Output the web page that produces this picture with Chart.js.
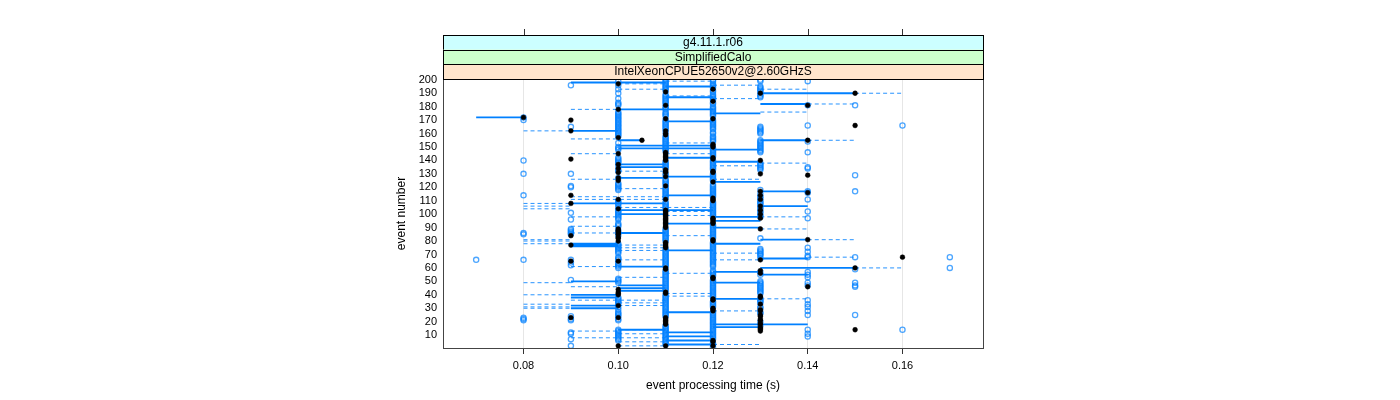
<!DOCTYPE html>
<html>
<head>
<meta charset="utf-8">
<script src="https://cdn.jsdelivr.net/npm/chart.js@4/dist/chart.umd.min.js"></script>
<style>
  html, body { margin: 0; padding: 0; background: #fff; }
  #wrap { width: 1400px; height: 400px; }
</style>
</head>
<body>
<div id="wrap"><canvas id="chart" width="1400" height="400"></canvas></div>
<script>
const stripLabels = ["g4.11.1.r06", "SimplifiedCalo", "IntelXeonCPUE52650v2@2.60GHzS"];
const stripColors = ["#ccffff", "#ccffcc", "#ffe5cc"];

const xTicks = [0.08, 0.10, 0.12, 0.14, 0.16];
const yTicks = [10, 20, 30, 40, 50, 60, 70, 80, 90, 100, 110, 120, 130, 140, 150, 160, 170, 180, 190, 200];

// event numbers with an open circle / a black dot, per time column (s)
const open07 = [66];
const open08 = [172, 170, 140, 130, 114, 86, 85, 66, 23, 22, 21];
const dots08 = [172];
const open09 = [196, 165, 130, 121, 120, 101, 96, 89, 88, 87, 86, 85, 66, 64, 62, 51, 24, 22, 21, 12, 11, 7, 2];
const dots09 = [170, 162, 141, 114, 108, 84, 77, 65, 23];
const open10 = [199, 196, 193, 190, 186, 183, 182, 181, 176, 175, 174, 173, 172, 171, 170, 169, 168, 167, 166, 165, 164, 163, 162, 161, 160, 159, 158, 153, 150, 149, 148, 142, 141, 140, 139, 138, 136, 133, 132, 127, 123, 122, 121, 120, 119, 118, 110, 109, 108, 107, 105, 103, 102, 101, 100, 99, 98, 97, 96, 93, 92, 91, 88, 86, 84, 78, 77, 76, 75, 74, 73, 72, 71, 68, 67, 66, 64, 63, 62, 61, 60, 52, 51, 50, 49, 38, 37, 36, 35, 34, 33, 31, 29, 27, 26, 25, 24, 22, 21, 14, 13, 12, 11, 10, 9, 8, 7, 6];
const dots10 = [197, 178, 157, 145, 137, 134, 131, 127, 125, 111, 104, 89, 88, 87, 86, 85, 83, 82, 80, 65, 44, 42, 41, 40, 32, 23, 2];
const dots105 = [155];
const open11 = [200, 199, 198, 197, 196, 195, 194, 193, 192, 189, 188, 187, 186, 185, 184, 183, 182, 180, 179, 178, 176, 175, 174, 173, 170, 169, 168, 167, 166, 165, 164, 163, 161, 158, 157, 156, 155, 154, 153, 152, 151, 150, 149, 148, 147, 139, 138, 137, 136, 135, 134, 130, 129, 126, 125, 124, 123, 122, 120, 119, 118, 117, 116, 115, 114, 113, 112, 109, 108, 107, 106, 105, 104, 89, 88, 87, 86, 85, 84, 83, 82, 81, 80, 74, 73, 72, 71, 70, 69, 68, 67, 66, 65, 64, 63, 62, 61, 58, 57, 56, 55, 54, 53, 52, 51, 50, 49, 48, 47, 46, 45, 44, 43, 40, 39, 38, 37, 36, 35, 34, 33, 32, 31, 30, 29, 28, 27, 26, 25, 24, 17, 16, 15, 14, 13, 12, 11, 10, 9, 8, 7, 6, 5, 4, 3];
const dots11 = [191, 181, 171, 162, 160, 159, 146, 145, 144, 143, 142, 141, 140, 133, 132, 131, 128, 121, 111, 103, 102, 101, 100, 99, 98, 97, 96, 95, 94, 93, 92, 91, 90, 79, 78, 77, 76, 75, 60, 59, 42, 41, 23, 22, 21, 20, 19, 18, 2];
const open12 = [200, 199, 197, 196, 195, 194, 192, 191, 189, 188, 187, 186, 185, 183, 182, 180, 179, 178, 177, 176, 175, 174, 173, 170, 169, 168, 167, 166, 165, 164, 163, 161, 160, 158, 157, 156, 155, 154, 149, 148, 147, 146, 145, 144, 143, 140, 139, 138, 137, 136, 135, 134, 133, 130, 129, 128, 127, 126, 125, 122, 121, 120, 119, 118, 117, 116, 115, 114, 113, 109, 108, 107, 106, 105, 104, 103, 102, 101, 100, 99, 98, 92, 91, 90, 89, 88, 87, 86, 85, 84, 83, 82, 79, 78, 77, 76, 75, 74, 73, 72, 71, 70, 69, 68, 67, 66, 65, 64, 63, 62, 61, 58, 57, 56, 55, 54, 51, 50, 49, 48, 47, 46, 45, 44, 43, 42, 41, 40, 39, 38, 35, 34, 33, 32, 31, 27, 26, 25, 24, 23, 22, 21, 20, 19, 18, 17, 16, 15, 14, 13, 12, 11, 10, 9, 8, 7, 4, 3, 1];
const dots12 = [193, 184, 171, 152, 151, 150, 142, 141, 132, 131, 124, 112, 111, 110, 97, 96, 95, 94, 93, 81, 80, 53, 52, 37, 36, 30, 29, 28, 6, 5, 2];
const open13 = [200, 199, 195, 194, 193, 192, 191, 189, 188, 187, 165, 164, 163, 162, 161, 160, 155, 154, 153, 152, 151, 150, 149, 148, 147, 146, 138, 137, 136, 135, 134, 133, 118, 115, 113, 112, 110, 109, 108, 107, 105, 104, 102, 101, 99, 98, 82, 74, 73, 72, 71, 70, 69, 67, 57, 55, 50, 49, 48, 47, 46, 45, 44, 43, 42, 41, 37, 36, 35, 34, 31, 30, 27, 26, 20, 17];
const dots13 = [190, 140, 130, 117, 114, 111, 106, 103, 100, 97, 89, 66, 58, 56, 39, 38, 33, 29, 28, 25, 24, 22, 21, 19, 18, 16, 15, 14, 13];
const open14 = [199, 181, 166, 154, 146, 135, 134, 117, 116, 111, 102, 97, 75, 72, 69, 68, 57, 55, 53, 49, 47, 36, 33, 31, 28, 25, 14, 11, 9];
const dots14 = [181, 155, 129, 116, 81, 46];
const open15 = [181, 129, 117, 68, 59, 49, 47, 46, 25];
const dots15 = [190, 166, 60, 14];
const open16 = [166, 14];
const dots16 = [68];
const open17 = [68, 60];

// [event, from time, to time]
const solidSegs = [
  [172, 0.07, 0.08], [198, 0.09, 0.10], [198, 0.10, 0.11], [195, 0.11, 0.12], [190, 0.13, 0.15],
  [187, 0.11, 0.12], [182, 0.13, 0.14], [178, 0.10, 0.12], [175, 0.12, 0.13], [169, 0.11, 0.12],
  [162, 0.09, 0.10], [155, 0.10, 0.105], [155, 0.13, 0.14], [151, 0.10, 0.12], [149, 0.10, 0.12],
  [148, 0.12, 0.13], [142, 0.11, 0.12], [139, 0.12, 0.13], [137, 0.10, 0.11], [135, 0.10, 0.11],
  [128, 0.11, 0.12], [127, 0.10, 0.11], [124, 0.12, 0.13], [117, 0.13, 0.14], [114, 0.11, 0.12],
  [108, 0.09, 0.11], [106, 0.13, 0.14], [103, 0.10, 0.12], [100, 0.10, 0.11], [98, 0.12, 0.13],
  [95, 0.12, 0.13], [93, 0.11, 0.12], [90, 0.12, 0.13], [86, 0.10, 0.11], [81, 0.13, 0.14],
  [78, 0.09, 0.10], [77, 0.09, 0.10], [76, 0.09, 0.10], [78, 0.12, 0.13], [73, 0.11, 0.12],
  [67, 0.13, 0.14], [61, 0.10, 0.11], [60, 0.13, 0.15], [57, 0.12, 0.13], [55, 0.13, 0.14],
  [50, 0.09, 0.10], [49, 0.12, 0.13], [47, 0.10, 0.11], [45, 0.10, 0.11], [43, 0.10, 0.11],
  [40, 0.09, 0.10], [38, 0.09, 0.10], [37, 0.12, 0.13], [32, 0.09, 0.10], [30, 0.09, 0.10],
  [27, 0.11, 0.12], [18, 0.12, 0.14], [16, 0.12, 0.13], [14, 0.10, 0.11], [12, 0.11, 0.12],
  [9, 0.11, 0.12], [6, 0.11, 0.12], [3, 0.11, 0.12]
];
const dashSegs = [
  [199, 0.11, 0.12], [197, 0.10, 0.11], [196, 0.12, 0.13], [193, 0.10, 0.11], [193, 0.13, 0.14],
  [190, 0.15, 0.16], [188, 0.11, 0.12], [186, 0.12, 0.13], [182, 0.14, 0.15], [178, 0.09, 0.10],
  [176, 0.13, 0.14], [162, 0.08, 0.09], [156, 0.09, 0.10], [155, 0.14, 0.15], [153, 0.11, 0.12],
  [145, 0.09, 0.10], [145, 0.11, 0.12], [138, 0.13, 0.14], [136, 0.12, 0.13], [132, 0.10, 0.11],
  [126, 0.09, 0.10], [126, 0.12, 0.13], [119, 0.10, 0.11], [113, 0.09, 0.11], [111, 0.09, 0.11],
  [108, 0.08, 0.09], [106, 0.08, 0.09], [104, 0.08, 0.09], [105, 0.10, 0.12], [102, 0.11, 0.12],
  [99, 0.11, 0.12], [98, 0.09, 0.10], [98, 0.13, 0.14], [91, 0.09, 0.10], [89, 0.13, 0.14],
  [86, 0.09, 0.10], [84, 0.11, 0.12], [81, 0.08, 0.09], [80, 0.08, 0.09], [78, 0.08, 0.09],
  [81, 0.14, 0.15], [77, 0.10, 0.11], [75, 0.10, 0.11], [73, 0.10, 0.11], [71, 0.12, 0.13],
  [68, 0.14, 0.15], [66, 0.10, 0.11], [66, 0.12, 0.13], [61, 0.09, 0.10], [60, 0.15, 0.16],
  [56, 0.11, 0.12], [53, 0.10, 0.11], [49, 0.08, 0.09], [46, 0.09, 0.10], [41, 0.11, 0.12],
  [39, 0.11, 0.12], [40, 0.08, 0.09], [37, 0.13, 0.14], [36, 0.09, 0.11], [34, 0.10, 0.11],
  [33, 0.08, 0.09], [31, 0.08, 0.09], [30, 0.08, 0.09], [32, 0.10, 0.11], [28, 0.12, 0.13],
  [14, 0.10, 0.11], [13, 0.09, 0.10], [11, 0.10, 0.11], [8, 0.09, 0.11], [5, 0.10, 0.11],
  [3, 0.12, 0.13], [2, 0.10, 0.11]
];

const openCols = [[0.07, open07], [0.08, open08], [0.09, open09], [0.10, open10], [0.11, open11], [0.12, open12],
                  [0.13, open13], [0.14, open14], [0.15, open15], [0.16, open16], [0.17, open17]];
const dotCols = [[0.08, dots08], [0.09, dots09], [0.10, dots10], [0.105, dots105], [0.11, dots11], [0.12, dots12],
                 [0.13, dots13], [0.14, dots14], [0.15, dots15], [0.16, dots16]];

function toPoints(cols) {
  const out = [];
  cols.forEach(([t, evs]) => evs.forEach(e => out.push({ x: t, y: e })));
  return out;
}

function toSegments(segs) {
  const out = [];
  segs.forEach(([e, a, b]) => {
    out.push({ x: a, y: e }, { x: b, y: e }, { x: b, y: null });
  });
  return out;
}

const BLUE = "#0080ff";
const FONT = "'Liberation Sans', Arial, sans-serif";

const stripPlugin = {
  id: "strips",
  afterDraw(chart) {
    const { ctx, chartArea: a, scales } = chart;
    const top = 35, h = (a.top - top) / 3;
    ctx.save();
    // frame round the panel
    ctx.strokeStyle = "#444";
    ctx.lineWidth = 1;
    ctx.strokeRect(a.left + 0.5, a.top + 0.5, a.right - a.left, a.bottom - a.top);
    stripLabels.forEach((lab, i) => {
      const y = top + i * h;
      ctx.fillStyle = stripColors[i];
      ctx.fillRect(a.left, y, a.right - a.left, h);
      ctx.strokeStyle = "#000";
      ctx.strokeRect(a.left + 0.5, Math.round(y) + 0.5, a.right - a.left, Math.round(h));
      ctx.fillStyle = "#000";
      ctx.font = "12px " + FONT;
      ctx.textAlign = "center";
      ctx.textBaseline = "middle";
      ctx.fillText(lab, (a.left + a.right) / 2, y + h / 2 + 0.5);
    });
    // top tick marks above the strips
    ctx.strokeStyle = "#333";
    xTicks.forEach(t => {
      const x = Math.round(scales.x.getPixelForValue(t)) + 0.5;
      ctx.beginPath();
      ctx.moveTo(x, top);
      ctx.lineTo(x, top - 6);
      ctx.stroke();
    });
    ctx.restore();
  }
};

new Chart(document.getElementById("chart"), {
  type: "scatter",
  data: {
    datasets: [
      {
        data: toPoints(dotCols), order: 0,
        pointRadius: 2.4, pointBackgroundColor: "#000", pointBorderColor: "#000", pointBorderWidth: 0.5,
      },
      {
        data: toPoints(openCols), order: 1,
        pointRadius: 2.6, pointBackgroundColor: "rgba(0,0,0,0)", pointBorderColor: "rgba(0,128,255,0.7)", pointBorderWidth: 1.3,
      },
      {
        data: toSegments(solidSegs), order: 2, showLine: true, spanGaps: false,
        borderColor: BLUE, borderWidth: 1.8, pointRadius: 0,
      },
      {
        data: toSegments(dashSegs), order: 3, showLine: true, spanGaps: false,
        borderColor: "rgba(0,128,255,0.85)", borderWidth: 1, borderDash: [4, 3], pointRadius: 0,
      },
    ],
  },
  options: {
    responsive: false,
    animation: false,
    events: [],
    layout: { padding: { left: 390, right: 417, top: 79, bottom: 3 } },
    plugins: { legend: { display: false }, tooltip: { enabled: false } },
    scales: {
      x: {
        type: "linear", min: 0.063, max: 0.177,
        afterBuildTicks: s => { s.ticks = xTicks.map(v => ({ value: v })); },
        afterFit: s => { s.height = 49; },
        grid: { color: "#e6e6e6", tickColor: "#333", tickLength: 6 },
        border: { color: "#444" },
        ticks: { color: "#000", font: { family: FONT, size: 11 }, padding: 5, maxRotation: 0, autoSkip: false,
                 callback: v => v.toFixed(2) },
        title: { display: true, text: "event processing time (s)", color: "#000", font: { family: FONT, size: 12 } },
      },
      y: {
        type: "linear", min: 0.4, max: 200.6,
        afterBuildTicks: s => { s.ticks = yTicks.map(v => ({ value: v })); },
        afterFit: s => { s.width = 53; },
        grid: { drawOnChartArea: false, drawTicks: false },
        border: { color: "#444" },
        ticks: { color: "#000", font: { family: FONT, size: 11 }, padding: 6, autoSkip: false, callback: v => String(v) },
        title: { display: true, text: "event number", color: "#000", font: { family: FONT, size: 12 } },
      },
    },
  },
  plugins: [stripPlugin],
});
</script>
</body>
</html>
